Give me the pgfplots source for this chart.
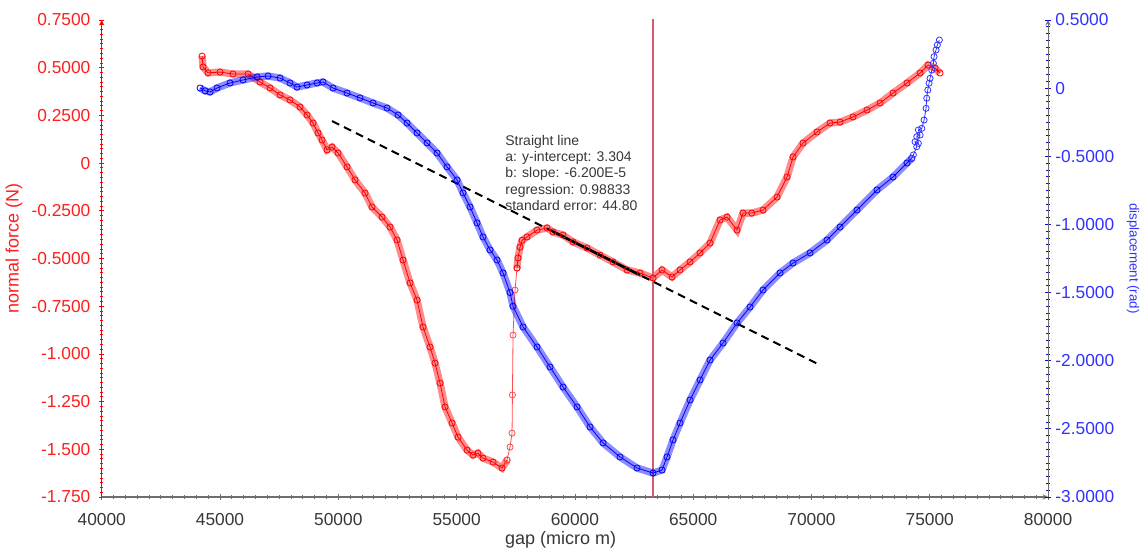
\documentclass[border=0pt]{standalone}
\usepackage{fontspec}
\setmainfont{Liberation Sans}
\usepackage{pgfplots}
\pgfplotsset{compat=1.18}
\usepackage{pgfplotstable}

\definecolor{fred}{RGB}{255,0,0}
\definecolor{fblue}{RGB}{0,0,255}
\definecolor{labred}{RGB}{255,30,30}
\definecolor{labblue}{RGB}{50,50,255}
\definecolor{vline}{RGB}{215,90,105}
\definecolor{txt}{RGB}{55,55,55}
\definecolor{axgray}{RGB}{110,110,110}

% normal force, dense part before the jump
\pgfplotstableread{
x y
44240 0.561
44282 0.504
44493 0.473
45001 0.477
45550 0.467
46184 0.467
46691 0.425
47114 0.394
47537 0.357
47959 0.331
48382 0.294
48678 0.252
48932 0.210
49143 0.158
49312 0.121
49523 0.069
49735 0.084
49988 0.053
50369 -0.020
50707 -0.088
51130 -0.157
51425 -0.230
51848 -0.283
52186 -0.335
52482 -0.403
52736 -0.508
53032 -0.628
53328 -0.718
53581 -0.859
53877 -0.964
54088 -1.048
54300 -1.153
54511 -1.278
54807 -1.362
55060 -1.436
55441 -1.504
55695 -1.530
55900 -1.520
56117 -1.546
56540 -1.567
56920 -1.598
57132 -1.556
}\forceA

% the jump, few samples
\pgfplotstableread{
x y
57132 -1.556
57258 -1.488
57343 -1.415
57360 -1.215
57385 -0.901
57469 -0.665
57554 -0.550
}\forceJ

% normal force after the jump
\pgfplotstableread{
x y
57554 -0.550
57596 -0.497
57680 -0.440
57765 -0.405
57976 -0.387
58399 -0.351
58822 -0.340
59075 -0.361
59498 -0.377
59921 -0.413
60513 -0.445
61062 -0.482
61612 -0.518
62204 -0.560
62753 -0.576
63303 -0.602
63683 -0.560
64106 -0.597
64444 -0.560
64867 -0.518
65290 -0.471
65712 -0.419
66135 -0.298
66431 -0.283
66853 -0.351
67107 -0.262
67476 -0.262
67952 -0.246
68544 -0.178
68967 -0.073
69220 0.032
69643 0.105
70235 0.163
70784 0.210
71207 0.215
71756 0.242
72348 0.278
72898 0.315
73447 0.367
74039 0.420
74589 0.472
74927 0.514
75222 0.498
75434 0.472
}\forceB

% displacement, dense part
\pgfplotstableread{
x y
44156 0.001
44370 -0.020
44578 -0.028
44874 0.001
45424 0.038
45973 0.060
46565 0.082
47030 0.089
47537 0.074
47959 0.038
48255 0.008
48678 0.023
49101 0.038
49354 0.045
49777 0.001
50369 -0.036
50918 -0.072
51467 -0.109
52059 -0.146
52524 -0.197
52905 -0.256
53328 -0.329
53751 -0.402
54173 -0.476
54596 -0.578
55019 -0.674
55272 -0.769
55568 -0.872
55864 -0.989
56117 -1.092
56413 -1.187
56709 -1.261
56963 -1.356
57258 -1.500
57385 -1.600
57808 -1.752
58399 -1.899
58949 -2.046
59498 -2.193
60090 -2.339
60640 -2.486
61189 -2.603
61908 -2.706
62626 -2.787
63303 -2.824
63683 -2.802
63894 -2.706
64148 -2.581
64444 -2.457
64867 -2.288
65290 -2.141
65712 -1.995
66262 -1.870
66853 -1.723
67403 -1.606
67952 -1.481
68671 -1.356
69220 -1.283
69939 -1.209
70657 -1.114
71207 -1.019
71925 -0.894
72771 -0.747
73447 -0.652
74039 -0.549
74239 -0.515
}\dispA

% displacement, sparse end
\pgfplotstableread{
x y
74239 -0.515
74306 -0.490
74450 -0.430
74378 -0.393
74518 -0.405
74450 -0.356
74590 -0.344
74518 -0.307
74662 -0.295
74759 -0.234
74843 -0.148
74872 -0.074
74915 -0.014
74970 0.036
75012 0.072
75084 0.133
75152 0.182
75181 0.231
75265 0.280
75320 0.317
75405 0.353
}\dispB

\pgfplotsset{
  common/.style={
    scale only axis, width=709.7pt, height=357.75pt,
    xmin=40000, xmax=80000,
    scaled x ticks=false, scaled y ticks=false,
    tick align=outside, major tick length=4pt, minor tick length=2.5pt,
    axis line style={-, line width=0.8pt},
    every tick/.style={line width=0.6pt},
    tick label style={font=\fontsize{13}{15}\selectfont},
    label style={font=\fontsize{13.5}{15}\selectfont},
  },
  band/.style={line width=5.5pt, opacity=0.45, mark=none},
  rings/.style={line width=0.6pt, mark=o, mark size=2.3pt, mark options={line width=0.6pt}},
}

\begin{document}
\begin{tikzpicture}
\begin{axis}[common,
  ymin=-1.75, ymax=0.75,
  axis x line=bottom, axis y line=left,
  x axis line style={axgray}, y axis line style={fred},
  xtick={40000,45000,50000,55000,60000,65000,70000,75000,80000},
  xticklabels={40000,45000,50000,55000,60000,65000,70000,75000,80000},
  minor x tick num=9,
  ytick={-1.75,-1.5,-1.25,-1,-0.75,-0.5,-0.25,0,0.25,0.5,0.75},
  yticklabels={-1.750,-1.500,-1.250,-1.000,-0.7500,-0.5000,-0.2500,0,0.2500,0.5000,0.7500},
  minor y tick num=9,
  xtick style={axgray}, ytick style={fred},
  xticklabel style={txt, yshift=-7pt},
  yticklabel style={labred, xshift=-3pt},
  xlabel={gap (micro m)}, ylabel={normal force (N)},
  xlabel style={txt, at={(axis description cs:0.485,-0.09)}, anchor=center},
  ylabel style={labred, at={(axis description cs:-0.0927,0.52)}, anchor=center},
]
\addplot[fred, band] table {\forceA};
\addplot[fred, rings] table {\forceA};
\addplot[fred!70, line width=0.6pt, mark=o, mark size=2.3pt] table {\forceJ};
\addplot[fred, band] table {\forceB};
\addplot[fred, rings] table {\forceB};
\addplot[vline, line width=0.8pt] coordinates {(63300,-1.75) (63300,0.76)};
\addplot[black, line width=1.5pt, dash pattern=on 6pt off 4pt] coordinates {(49735,0.2204) (70361,-1.0587)};
\addplot[black, line width=2pt] coordinates {(59075,-0.3587) (62753,-0.5867)};
\node[anchor=north west, align=left, inner sep=0pt, text=txt,
  font=\fontsize{10.5}{12.2}\selectfont] at (axis cs:57049,0.147)
  {Straight line\\a: y-intercept: 3.304\\b: slope: -6.200E-5\\regression: 0.98833\\standard error: 44.80};
\end{axis}
\begin{axis}[common,
  ymin=-3, ymax=0.5,
  axis x line=none, axis y line=right,
  y axis line style={axgray},
  ytick={-3,-2.5,-2,-1.5,-1,-0.5,0,0.5},
  yticklabels={-3.0000,-2.5000,-2.0000,-1.5000,-1.0000,-0.5000,0,0.5000},
  minor y tick num=9,
  ytick style={fblue},
  yticklabel style={labblue},
  ylabel={displacement (rad)},
  ylabel style={labblue, at={(axis description cs:1.0898,0.5)}, anchor=center, rotate=180},
]
\addplot[fblue, band] table {\dispA};
\addplot[fblue, rings] table {\dispA};
\addplot[fblue!80, line width=0.6pt, mark=o, mark size=2.3pt] table {\dispB};
\end{axis}
\pgfresetboundingbox
\useasboundingbox (-76.3pt,-41.25pt) rectangle (783.9pt,372.75pt);
\end{tikzpicture}
\end{document}
